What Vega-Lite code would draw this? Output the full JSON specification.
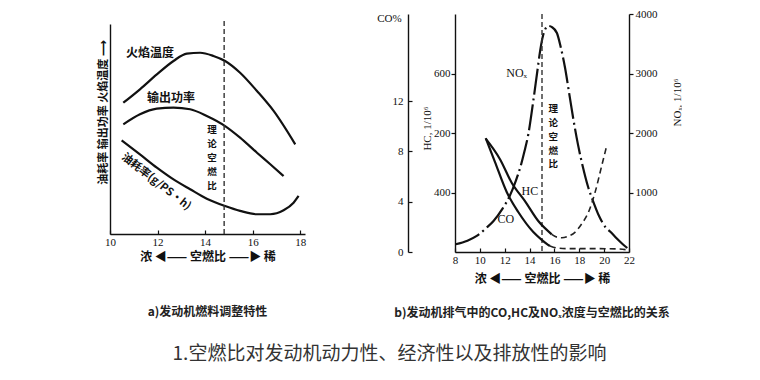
{
  "$schema": "https://vega.github.io/schema/vega-lite/v6.json",
  "background": "white",
  "padding": {"left": 97, "top": 8, "right": 0, "bottom": 0},
  "bounds": "flush",
  "spacing": 150,
  "config": {
    "view": {"stroke": null},
    "font": "Noto Sans CJK SC",
    "axis": {"grid": false, "labelFont": "Liberation Serif", "labelFontSize": 11, "labelColor": "#111", "domainColor": "#111", "domainWidth": 1.4, "tickColor": "#111", "tickWidth": 1.2, "titleFont": "Noto Sans CJK SC", "titleFontSize": 12, "titleFontWeight": "bold", "titleColor": "#111"}
  },
  "title": {"text": "1.空燃比对发动机动力性、经济性以及排放性的影响", "orient": "bottom", "anchor": "middle", "fontSize": 19, "fontWeight": "normal", "font": "Noto Sans CJK SC", "color": "#333", "offset": 26},
  "datasets": {
    "engine": [
      {"curve": "火焰温度", "afr": 10.56, "v": 62.5},
      {"curve": "火焰温度", "afr": 11.26, "v": 68.9},
      {"curve": "火焰温度", "afr": 11.97, "v": 76.0},
      {"curve": "火焰温度", "afr": 12.67, "v": 82.4},
      {"curve": "火焰温度", "afr": 13.23, "v": 85.9},
      {"curve": "火焰温度", "afr": 13.79, "v": 86.3},
      {"curve": "火焰温度", "afr": 14.35, "v": 84.8},
      {"curve": "火焰温度", "afr": 14.84, "v": 82.4},
      {"curve": "火焰温度", "afr": 15.47, "v": 76.8},
      {"curve": "火焰温度", "afr": 16.18, "v": 68.1},
      {"curve": "火焰温度", "afr": 16.88, "v": 58.6},
      {"curve": "火焰温度", "afr": 17.79, "v": 42.7},
      {"curve": "输出功率", "afr": 10.56, "v": 52.2},
      {"curve": "输出功率", "afr": 11.26, "v": 57.0},
      {"curve": "输出功率", "afr": 11.97, "v": 59.7},
      {"curve": "输出功率", "afr": 12.67, "v": 60.2},
      {"curve": "输出功率", "afr": 13.37, "v": 59.4},
      {"curve": "输出功率", "afr": 14.07, "v": 56.2},
      {"curve": "输出功率", "afr": 14.84, "v": 51.4},
      {"curve": "输出功率", "afr": 15.47, "v": 45.9},
      {"curve": "输出功率", "afr": 16.18, "v": 38.7},
      {"curve": "输出功率", "afr": 16.74, "v": 33.2},
      {"curve": "输出功率", "afr": 17.3, "v": 27.6},
      {"curve": "油耗率", "afr": 10.49, "v": 44.6},
      {"curve": "油耗率", "afr": 11.26, "v": 37.9},
      {"curve": "油耗率", "afr": 11.97, "v": 31.6},
      {"curve": "油耗率", "afr": 12.67, "v": 26.0},
      {"curve": "油耗率", "afr": 13.37, "v": 21.3},
      {"curve": "油耗率", "afr": 14.07, "v": 16.8},
      {"curve": "油耗率", "afr": 14.84, "v": 13.3},
      {"curve": "油耗率", "afr": 15.47, "v": 11.0},
      {"curve": "油耗率", "afr": 16.18, "v": 9.4},
      {"curve": "油耗率", "afr": 16.74, "v": 9.4},
      {"curve": "油耗率", "afr": 17.3, "v": 11.3},
      {"curve": "油耗率", "afr": 17.72, "v": 14.9},
      {"curve": "油耗率", "afr": 17.93, "v": 18.1}
    ],
    "labelsA": [
      {"afr": 11.68, "v": 86.2, "label": "火焰温度"},
      {"afr": 12.57, "v": 64.8, "label": "输出功率"}
    ],
    "fuelLabel": [{"afr": 11.94, "v": 24.8, "label": "油耗率(g/PS·h)"}],
    "stoichA": [{"afr": 14.8, "v": 101.4}],
    "stoichTextA": [{"afr": 14.29, "v": 51.9, "label": "理\n论\n空\n燃\n比"}],
    "nox": [
      {"afr": 8.05, "nox": 130}, {"afr": 9.0, "nox": 190}, {"afr": 9.75, "nox": 270},
      {"afr": 10.5, "nox": 400}, {"afr": 11.1, "nox": 520}, {"afr": 11.8, "nox": 720},
      {"afr": 12.4, "nox": 940}, {"afr": 12.9, "nox": 1200}, {"afr": 13.25, "nox": 1420},
      {"afr": 13.6, "nox": 1700}, {"afr": 13.9, "nox": 1980}, {"afr": 14.3, "nox": 2540},
      {"afr": 14.6, "nox": 3000}, {"afr": 14.85, "nox": 3380}, {"afr": 15.1, "nox": 3650},
      {"afr": 15.3, "nox": 3760}, {"afr": 15.5, "nox": 3800}, {"afr": 15.8, "nox": 3780},
      {"afr": 16.2, "nox": 3680}, {"afr": 16.5, "nox": 3450}, {"afr": 16.85, "nox": 3100},
      {"afr": 17.2, "nox": 2650}, {"afr": 17.5, "nox": 2260}, {"afr": 17.9, "nox": 1800},
      {"afr": 18.3, "nox": 1420}, {"afr": 18.7, "nox": 1100}, {"afr": 19.1, "nox": 860},
      {"afr": 19.6, "nox": 600}, {"afr": 20.1, "nox": 420}, {"afr": 20.5, "nox": 340},
      {"afr": 21.0, "nox": 230}, {"afr": 21.5, "nox": 130}, {"afr": 22.0, "nox": 45}
    ],
    "hc": [
      {"afr": 10.47, "hc": 381, "part": "solid"}, {"afr": 11.62, "hc": 312, "part": "solid"},
      {"afr": 12.56, "hc": 233, "part": "solid"}, {"afr": 13.63, "hc": 171, "part": "solid"},
      {"afr": 14.7, "hc": 104, "part": "solid"}, {"afr": 15.78, "hc": 59.5, "part": "solid"},
      {"afr": 15.78, "hc": 59.5, "part": "dashed"}, {"afr": 16.2, "hc": 50, "part": "dashed"},
      {"afr": 16.6, "hc": 48, "part": "dashed"}, {"afr": 17.1, "hc": 53, "part": "dashed"},
      {"afr": 17.65, "hc": 66, "part": "dashed"}, {"afr": 18.2, "hc": 95, "part": "dashed"},
      {"afr": 18.72, "hc": 132, "part": "dashed"}, {"afr": 19.26, "hc": 199, "part": "dashed"},
      {"afr": 19.8, "hc": 289, "part": "dashed"}, {"afr": 20.2, "hc": 356, "part": "dashed"}
    ],
    "co": [
      {"afr": 10.47, "co": 9.06, "part": "solid"}, {"afr": 11.22, "co": 7.15, "part": "solid"},
      {"afr": 12.16, "co": 4.77, "part": "solid"}, {"afr": 13.09, "co": 3.18, "part": "solid"},
      {"afr": 14.3, "co": 1.59, "part": "solid"}, {"afr": 15.0, "co": 0.95, "part": "solid"},
      {"afr": 15.38, "co": 0.65, "part": "solid"}, {"afr": 15.64, "co": 0.48, "part": "solid"},
      {"afr": 15.64, "co": 0.48, "part": "dashed"}, {"afr": 16.2, "co": 0.32, "part": "dashed"},
      {"afr": 17.0, "co": 0.27, "part": "dashed"}, {"afr": 19.0, "co": 0.27, "part": "dashed"},
      {"afr": 21.0, "co": 0.25, "part": "dashed"}, {"afr": 22.0, "co": 0.15, "part": "dashed"}
    ],
    "labelsB": [
      {"afr": 12.96, "nox": 3014, "label": "NOₓ"},
      {"afr": 14.03, "nox": 1025, "label": "HC"},
      {"afr": 12.08, "nox": 550, "label": "CO"}
    ],
    "stoichB": [{"afr": 15.0}],
    "stoichTextB": [{"afr": 15.91, "nox": 2490, "label": "理\n论\n空\n燃\n比"}]
  },
  "hconcat": [
    {
      "width": 195,
      "height": 220,
      "title": {"text": "a)发动机燃料调整特性", "orient": "bottom", "offset": 45, "fontSize": 12, "fontWeight": "bold", "color": "#222", "anchor": "middle"},
      "layer": [
        {
          "data": {"name": "engine"},
          "mark": {"type": "line", "interpolate": "monotone", "strokeWidth": 2.2, "color": "#111"},
          "encoding": {
            "x": {"field": "afr", "type": "quantitative", "scale": {"domain": [10, 18.2], "nice": false, "zero": false},
                  "axis": {"values": [10, 12, 14, 16, 18], "tickSize": -4, "labelPadding": 6, "labelFlush": false, "labelOverlap": false, "title": "浓 ◀—— 空燃比 ——▶ 稀", "titlePadding": 4}},
            "y": {"field": "v", "type": "quantitative", "scale": {"domain": [0, 100], "range": [220, 10], "nice": false},
                  "axis": {"ticks": false, "labels": false, "title": "油耗率 输出功率 火焰温度 ⟶", "titleAngle": -90, "titleX": -7, "titleY": 98, "titleAlign": "center", "titleBaseline": "middle", "titleFontSize": 11}},
            "detail": {"field": "curve"}
          }
        },
        {
          "data": {"name": "stoichA"},
          "mark": {"type": "rule", "strokeDash": [5, 3], "strokeWidth": 1.4, "color": "#333"},
          "encoding": {"x": {"field": "afr", "type": "quantitative"}, "y": {"field": "v", "type": "quantitative"}, "y2": {"datum": 0}}
        },
        {
          "data": {"name": "labelsA"},
          "mark": {"type": "text", "fontSize": 12, "fontWeight": "bold", "color": "#111", "align": "center", "baseline": "middle"},
          "encoding": {"x": {"field": "afr", "type": "quantitative"}, "y": {"field": "v", "type": "quantitative"}, "text": {"field": "label"}}
        },
        {
          "data": {"name": "fuelLabel"},
          "mark": {"type": "text", "fontSize": 11, "fontWeight": "bold", "color": "#111", "align": "center", "baseline": "middle", "angle": 38},
          "encoding": {"x": {"field": "afr", "type": "quantitative"}, "y": {"field": "v", "type": "quantitative"}, "text": {"field": "label"}}
        },
        {
          "data": {"name": "stoichTextA"},
          "mark": {"type": "text", "fontSize": 9.5, "fontWeight": "bold", "color": "#111", "align": "center", "baseline": "top", "lineBreak": "\n", "lineHeight": 13.9},
          "encoding": {"x": {"field": "afr", "type": "quantitative"}, "y": {"field": "v", "type": "quantitative"}, "text": {"field": "label"}}
        }
      ]
    },
    {
      "width": 174,
      "height": 238,
      "title": {"text": "b)发动机排气中的CO,HC及NOₓ浓度与空燃比的关系", "orient": "bottom", "offset": 24, "dx": -10, "fontSize": 12, "fontWeight": "bold", "color": "#222", "anchor": "middle"},
      "encoding": {
        "x": {"field": "afr", "type": "quantitative", "scale": {"domain": [8, 22], "nice": false, "zero": false},
              "axis": {"values": [8, 10, 12, 14, 16, 18, 20, 22], "tickSize": -4, "labelPadding": 6, "labelFlush": false, "labelOverlap": false, "title": "浓 ◀—— 空燃比 ——▶ 稀", "titlePadding": 8}}
      },
      "layer": [
        {
          "layer": [
            {
              "data": {"name": "nox"},
              "mark": {"type": "line", "interpolate": "monotone", "strokeWidth": 2.2, "color": "#111", "strokeDash": [26, 4, 2, 4]},
              "encoding": {
                "y": {"field": "nox", "type": "quantitative", "scale": {"domain": [0, 4000], "nice": false},
                      "axis": {"orient": "right", "values": [1000, 2000, 3000, 4000], "format": "d", "tickSize": 4, "labelPadding": 2, "title": "NOₓ, 1/10⁶", "titleFont": "Liberation Serif", "titleFontWeight": "normal", "titleFontSize": 11, "titleAngle": -90, "titleX": 48, "titleY": 88, "titleAlign": "center", "titleBaseline": "middle"}}
              }
            },
            {
              "data": {"name": "stoichB"},
              "mark": {"type": "rule", "strokeDash": [5, 3], "strokeWidth": 1.4, "color": "#333"},
              "encoding": {}
            },
            {
              "data": {"name": "labelsB"},
              "mark": {"type": "text", "font": "Liberation Serif", "fontSize": 12, "color": "#111", "align": "center", "baseline": "middle"},
              "encoding": {"y": {"field": "nox", "type": "quantitative"}, "text": {"field": "label"}}
            },
            {
              "data": {"name": "stoichTextB"},
              "mark": {"type": "text", "fontSize": 9.5, "fontWeight": "bold", "color": "#111", "align": "center", "baseline": "top", "lineBreak": "\n", "lineHeight": 13.9},
              "encoding": {"y": {"field": "nox", "type": "quantitative"}, "text": {"field": "label"}}
            }
          ]
        },
        {
          "data": {"name": "hc"},
          "layer": [
            {
              "transform": [{"filter": "datum.part === 'solid'"}],
              "mark": {"type": "line", "interpolate": "monotone", "strokeWidth": 2.2, "color": "#111"},
              "encoding": {
                "y": {"field": "hc", "type": "quantitative", "scale": {"domain": [0, 800], "nice": false},
                      "axis": {"orient": "left", "offset": 0, "values": [200, 400, 600], "labelExpr": "datum.value == 200 ? '400' : datum.value == 400 ? '200' : '600'", "tickSize": 4, "labelPadding": 1, "title": "HC, 1/10⁶", "titleFont": "Liberation Serif", "titleFontWeight": "normal", "titleFontSize": 11, "titleAngle": -90, "titleX": -28, "titleY": 114, "titleAlign": "center", "titleBaseline": "middle"}}
              }
            },
            {
              "transform": [{"filter": "datum.part === 'dashed'"}],
              "mark": {"type": "line", "interpolate": "monotone", "strokeWidth": 1.6, "color": "#222", "strokeDash": [6, 4]},
              "encoding": {"y": {"field": "hc", "type": "quantitative"}}
            }
          ]
        },
        {
          "data": {"name": "co"},
          "layer": [
            {
              "transform": [{"filter": "datum.part === 'solid'"}],
              "mark": {"type": "line", "interpolate": "monotone", "strokeWidth": 2.2, "color": "#111"},
              "encoding": {
                "y": {"field": "co", "type": "quantitative", "scale": {"domain": [0, 18.92], "nice": false},
                      "axis": {"orient": "left", "offset": 47, "values": [0, 1, 2, 3, 4, 5, 6, 7, 8, 9, 10, 11, 12], "labelExpr": "datum.value % 2 == 0 ? datum.label : ''", "labelOverlap": false, "labelFlush": false, "tickSize": -4, "labelPadding": 9, "title": "CO%", "titleFont": "Liberation Serif", "titleFontWeight": "normal", "titleFontSize": 11, "titleAngle": 0, "titleX": -19, "titleY": 4, "titleAlign": "center", "titleBaseline": "middle"}}
              }
            },
            {
              "transform": [{"filter": "datum.part === 'dashed'"}],
              "mark": {"type": "line", "interpolate": "monotone", "strokeWidth": 1.6, "color": "#222", "strokeDash": [6, 4]},
              "encoding": {"y": {"field": "co", "type": "quantitative"}}
            }
          ]
        }
      ],
      "resolve": {"scale": {"y": "independent"}}
    }
  ]
}
